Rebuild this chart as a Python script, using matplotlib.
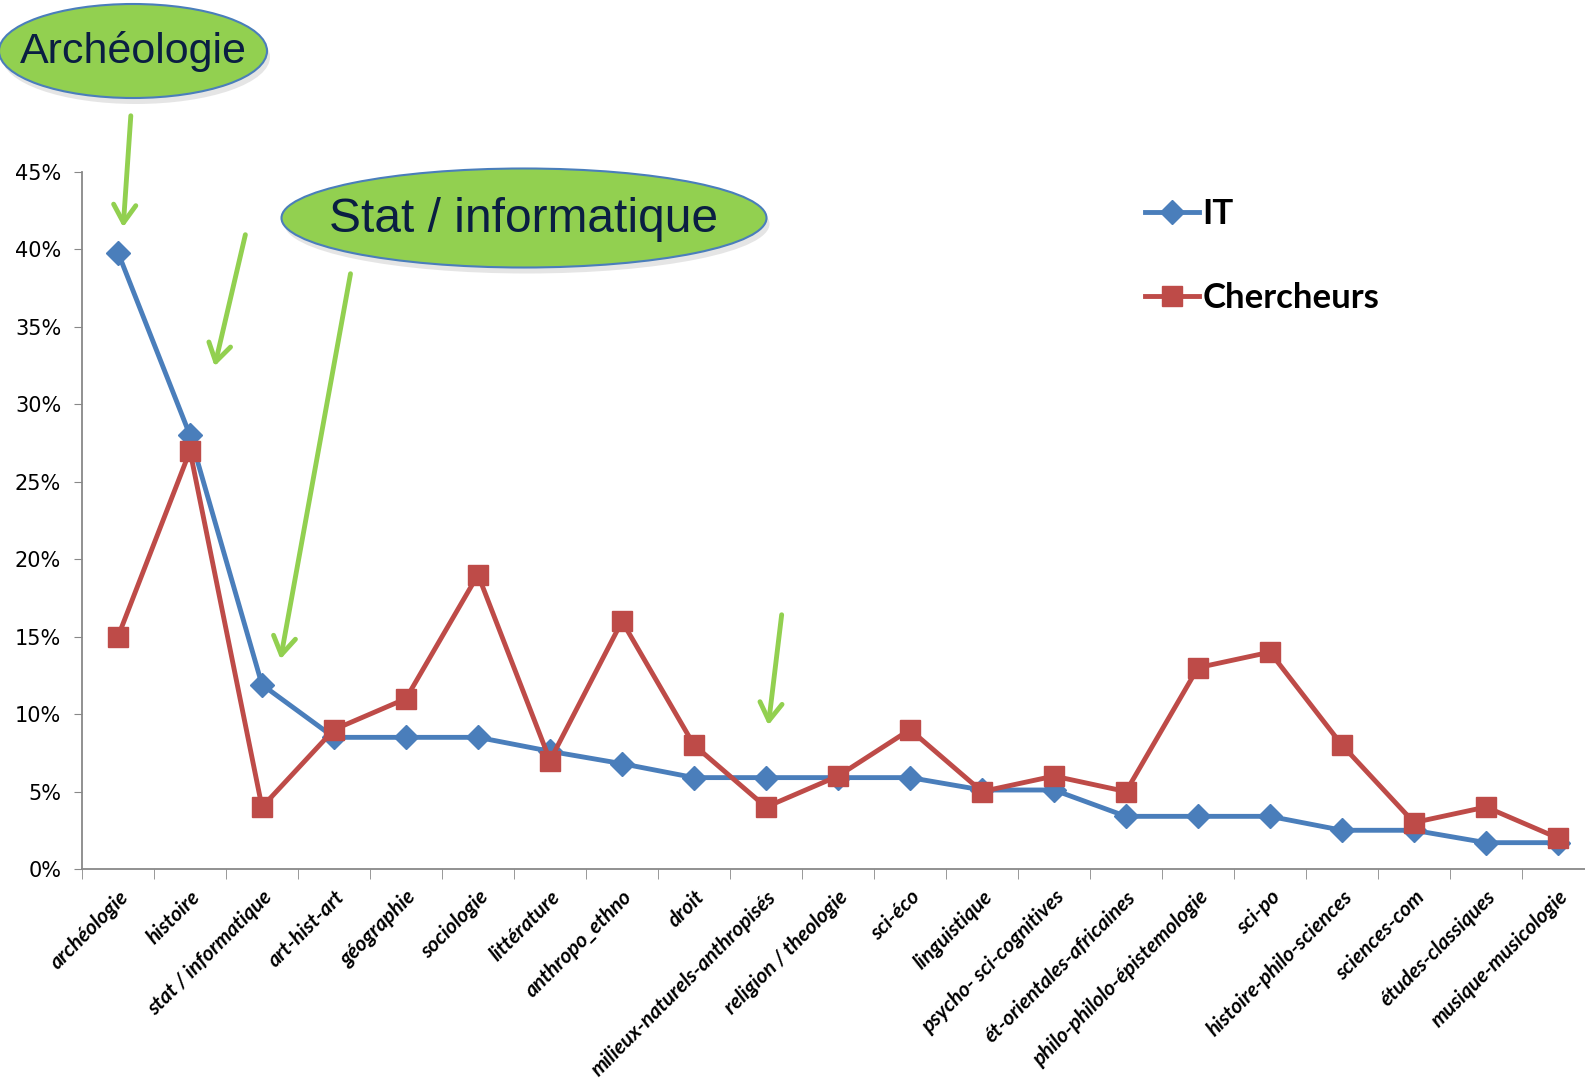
import numpy as np
import matplotlib
matplotlib.use("Agg")
import matplotlib.pyplot as plt
from matplotlib.patches import Ellipse, FancyArrowPatch
from matplotlib.ticker import FuncFormatter, FixedLocator

categories = ["archéologie", "histoire", "stat / informatique", "art-hist-art", "géographie",
              "sociologie", "littérature", "anthropo_ethno", "droit",
              "milieux-naturels-anthropisés", "religion / theologie", "sci-éco", "linguistique",
              "psycho- sci-cognitives", "ét-orientales-africaines", "philo-philolo-épistemologie",
              "sci-po", "histoire-philo-sciences", "sciences-com", "études-classiques",
              "musique-musicologie"]
it_vals = [39.8, 28.0, 11.9, 8.5, 8.5, 8.5, 7.6, 6.8, 5.9, 5.9, 5.9, 5.9, 5.1, 5.1,
           3.4, 3.4, 3.4, 2.5, 2.5, 1.7, 1.7]
chercheurs_vals = [15, 27, 4, 9, 11, 19, 7, 16, 8, 4, 6, 9, 5, 6, 5, 13, 14, 8, 3, 4, 2]
y_ticks = [0, 5, 10, 15, 20, 25, 30, 35, 40, 45]

W, H = 1585, 1078
fig = plt.figure(figsize=(W / 100, H / 100), dpi=100)

# main axes (right edge runs a bit past the picture, like the source)
ax = fig.add_axes([82 / W, 209 / H, (1594 - 82) / W, (869 - 172) / H])
x = np.arange(len(categories))
ax.plot(x, it_vals, color="#4A7EBB", lw=3.5, marker="D", ms=12, label="IT", zorder=3)
ax.plot(x, chercheurs_vals, color="#BE4B48", lw=3.5, marker="s", ms=15,
        label="Chercheurs", zorder=4)

ax.set_xlim(-0.5, len(categories) - 0.5)
ax.set_ylim(0, 45)
ax.set_yticks(y_ticks)
ax.yaxis.set_major_formatter(FuncFormatter(lambda v, p: f"{v:.0f}%"))
ax.tick_params(axis="y", length=6, color="#888888", labelsize=15, pad=9)

ax.set_xticks(x)
ax.set_xticklabels(categories, rotation=45, ha="right", va="top", rotation_mode="anchor",
                   family=["Lato", "DejaVu Sans"], fontweight="bold", fontstyle="italic",
                   fontsize=15)
ax.tick_params(axis="x", which="major", length=0, pad=13)
ax.xaxis.set_minor_locator(FixedLocator(np.arange(-0.5, len(categories), 1)))
ax.tick_params(axis="x", which="minor", length=7, color="#888888")

for s in ["top", "right"]:
    ax.spines[s].set_visible(False)
for s in ["left", "bottom"]:
    ax.spines[s].set_color("#888888")
    ax.spines[s].set_linewidth(1.3)

leg = ax.legend(loc="upper left", bbox_to_anchor=(1145 / W, 1 - 198 / H),
                bbox_transform=fig.transFigure, frameon=False, borderpad=0,
                borderaxespad=0, handlelength=1.55, handletextpad=0.1, labelspacing=1.5,
                prop={"family": ["Lato", "DejaVu Sans"], "weight": "bold", "size": 25})

# overlay for the callouts, in pixel coordinates
ov = fig.add_axes([0, 0, 1, 1])
ov.set_xlim(0, W)
ov.set_ylim(H, 0)
ov.axis("off")

green = "#92D050"
callouts = [((133, 51), 268, 94, "Archéologie", 31),
            ((524, 218), 485, 99, "Stat / informatique", 34.5)]
for (cx, cy), w, h, txt, fs in callouts:
    ov.add_patch(Ellipse((cx + 3, cy + 6), w, h, color="#999999", alpha=0.25, lw=0))
    ov.add_patch(Ellipse((cx, cy), w, h, facecolor=green, edgecolor="#4A7EBB", lw=1.5))
    ov.text(cx, cy + 1, txt, ha="center", va="center", fontsize=fs, color="#0A1E42",
            family=["Liberation Sans Narrow", "Liberation Sans", "DejaVu Sans"],
            fontstretch="condensed")

arrows = [((131, 113), (123, 230)), ((246, 232), (214, 369)),
          ((351, 271), (280, 662)), ((782, 612), (768, 728))]
for p0, p1 in arrows:
    ov.add_patch(FancyArrowPatch(p0, p1, arrowstyle="->,head_length=8,head_width=5",
                                 color=green, lw=3.5, mutation_scale=1.6))

fig.savefig("out.png", dpi=100)
